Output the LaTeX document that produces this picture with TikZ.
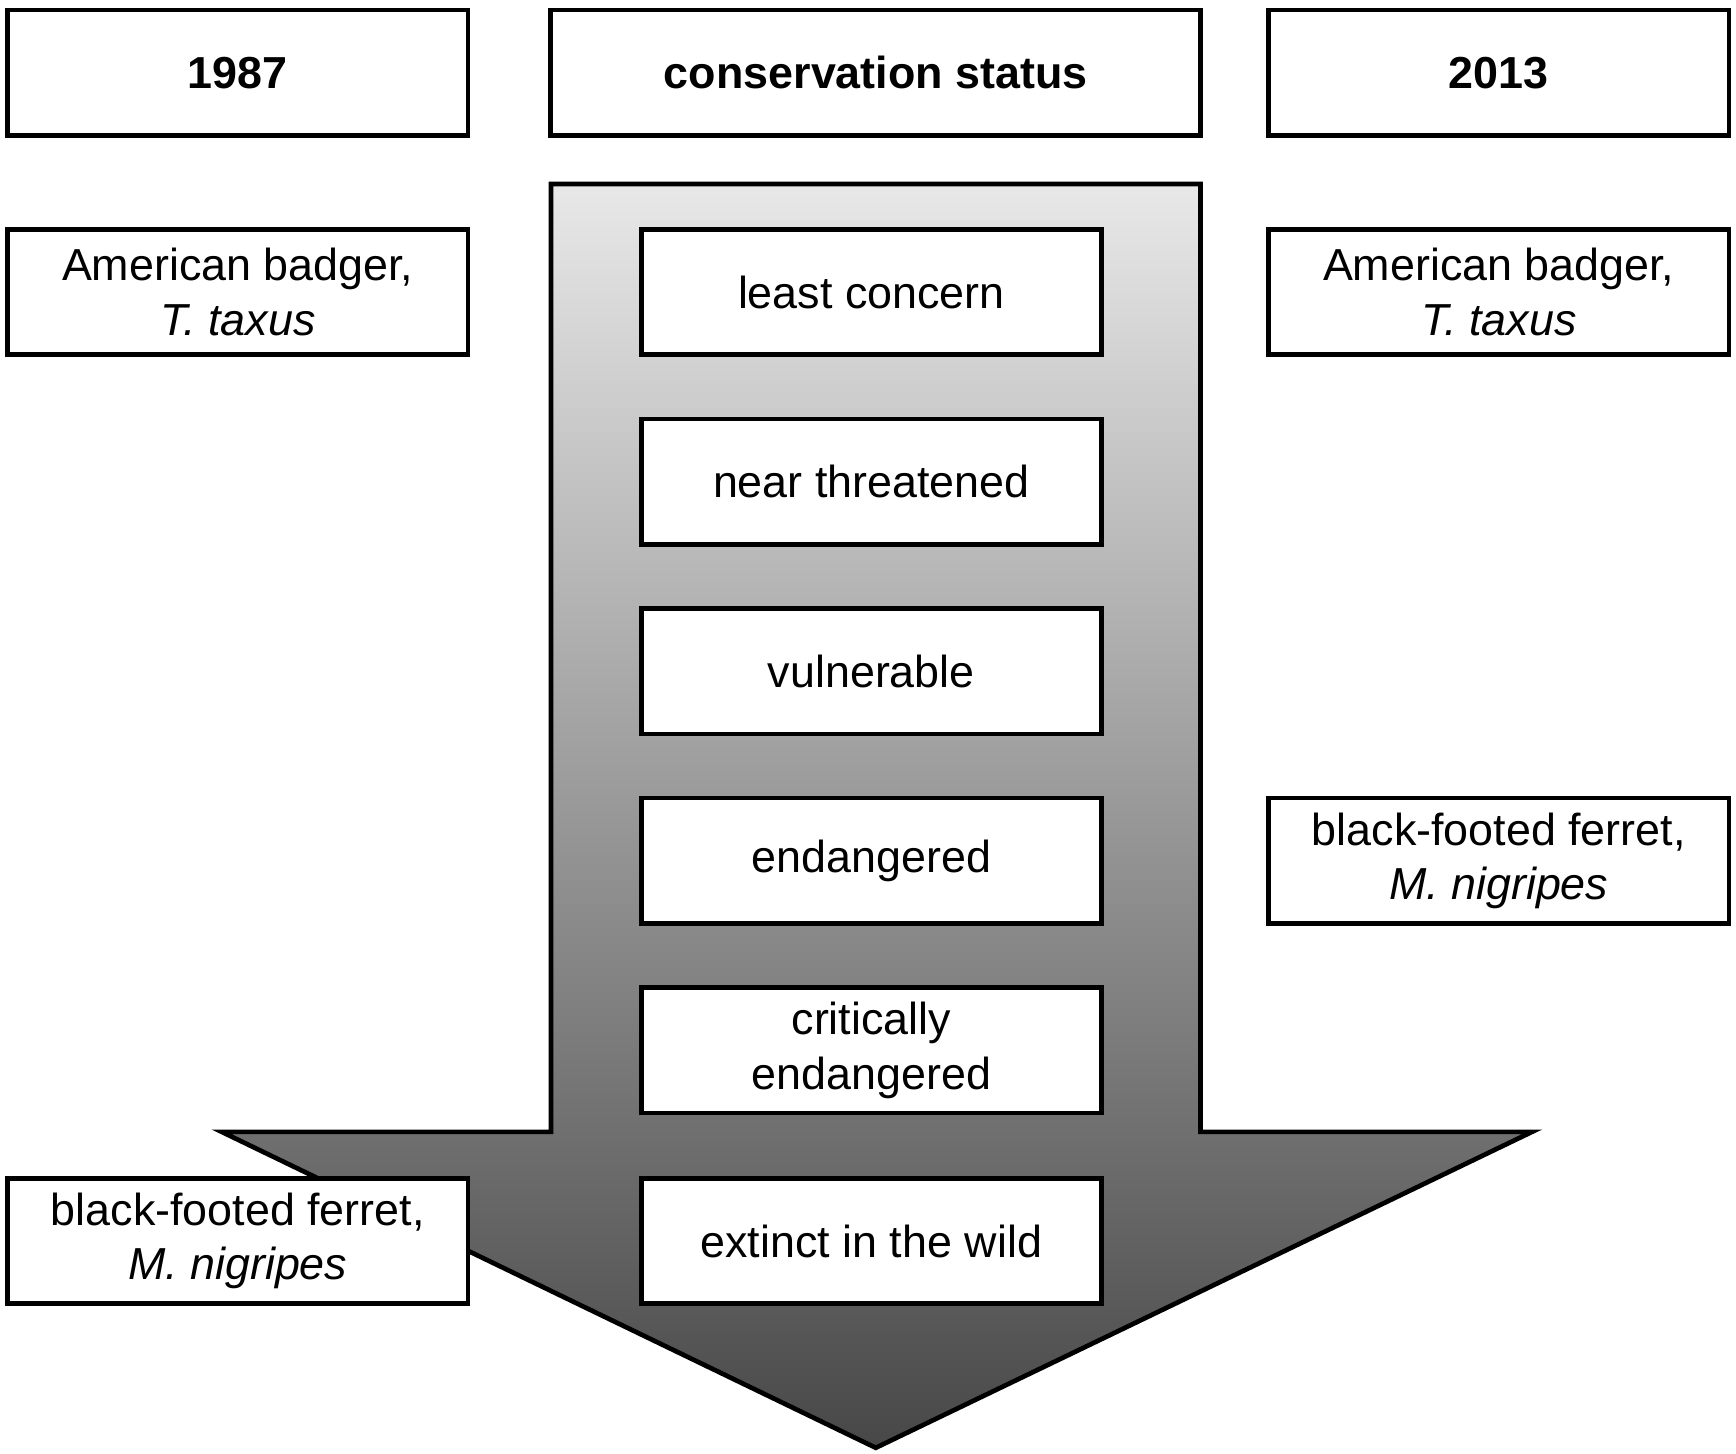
\documentclass[tikz,border=0pt]{standalone}
\usepackage{fontspec}
\setmainfont{Liberation Sans}
\usetikzlibrary{positioning}

\begin{document}
\begin{tikzpicture}[
    x=0.01cm, y=-0.01cm,
    % box styles
    databox/.style={
        draw=black,
        line width=1.2pt,
        fill=white,
        minimum width=4.15cm,
        minimum height=1.13cm,
        align=center,
        font=\fontsize{11.5}{14}\selectfont,
        inner sep=0pt
    },
    headbox/.style={databox, font=\fontsize{11.5}{14}\selectfont\bfseries},
    widebox/.style={headbox, minimum width=5.86cm}
]
\useasboundingbox (0,0) rectangle (1566,1311);

% Arrow
\shade[top color=gray!18, bottom color=black!72, draw=black, line width=1.2pt]
    (497,166) -- (1083,166) -- (1083,1021) -- (1382,1021) -- (790,1306)
    -- (200,1021) -- (497,1021) -- cycle;

% Headers
\node[headbox] (year1) at (214.5,65.5) {1987};
\node[widebox] (status) at (790,65.5) {conservation status};
\node[headbox] (year2) at (1352,65.5) {2013};

% Status levels
\node[databox] (lc) at (786,263.5) {least concern};
\node[databox] (nt) at (786,434.5) {near threatened};
\node[databox] (vu) at (786,605.5) {vulnerable};
\node[databox] (en) at (786,776.5) {endangered};
\node[databox] (cr) at (786,947.5) {critically\\endangered};
\node[databox] (ew) at (786,1119.5) {extinct in the wild};

% Species 1987
\node[databox] (badgerA) at (214.5,263.5) {American badger,\\\textit{T. taxus}};
\node[databox] (ferretA) at (214.5,1119.5) {black-footed ferret,\\\textit{M. nigripes}};

% Species 2013
\node[databox] (badgerB) at (1352,263.5) {American badger,\\\textit{T. taxus}};
\node[databox] (ferretB) at (1352,776.5) {black-footed ferret,\\\textit{M. nigripes}};
\end{tikzpicture}
\end{document}
